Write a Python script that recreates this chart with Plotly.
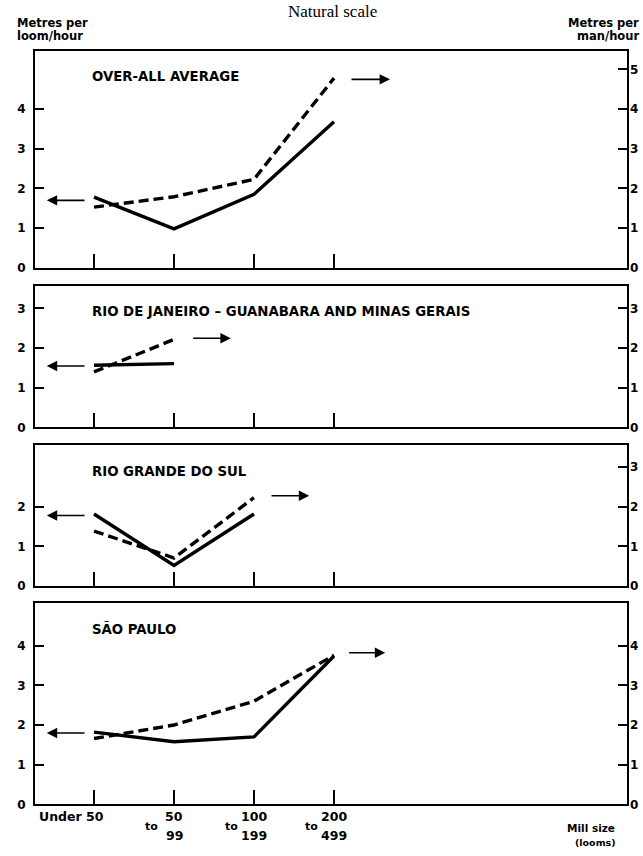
import plotly.graph_objects as go

# ---------------- data ----------------
categories = ["Under 50", "50 to 99", "100 to 199", "200 to 499"]
cat_top = ["50", "100", "200"]
cat_bottom = ["99", "199", "499"]
panel_titles = ["OVER-ALL AVERAGE",
                "RIO DE JANEIRO – GUANABARA AND MINAS GERAIS",
                "RIO GRANDE DO SUL",
                "SÃO PAULO"]
# metres per loom/hour (solid)
loom_overall = [1.78, 0.98, 1.85, 3.68]
loom_rio = [1.57, 1.61]
loom_rgs = [1.82, 0.52, 1.82]
loom_sp = [1.82, 1.58, 1.70, 3.74]
# metres per man/hour (dashed)
man_overall = [1.53, 1.79, 2.23, 4.78]
man_rio = [1.40, 2.22]
man_rgs = [1.39, 0.71, 2.23]
man_sp = [1.66, 2.00, 2.60, 3.76]

left_ticks = [[0, 1, 2, 3, 4], [0, 1, 2, 3], [0, 1, 2], [0, 1, 2, 3, 4]]
right_ticks = [[0, 1, 2, 3, 4, 5], [0, 1, 2, 3], [0, 1, 2, 3], [0, 1, 2, 3, 4]]

loom = [loom_overall, loom_rio, loom_rgs, loom_sp]
man = [man_overall, man_rio, man_rgs, man_sp]

# ---------------- layout geometry ----------------
W, H = 643, 856
panel_px = [(51, 270), (288, 431), (449, 591), (608, 811)]
y_max = [(b - t) / 40.0 for t, b in panel_px]
x_left, x_right = 35, 627
x0_px, dx_px = 94, 80
x_range = [(x_left - x0_px) / dx_px, (x_right - x0_px) / dx_px]

# arrow positions (data units): left arrow y, right arrow (tail x, head x, y)
left_arrow_y = [1.70, 1.55, 1.78, 1.80]
right_arrow = [(3.20, 3.70, 4.75), (1.22, 1.71, 2.25), (2.20, 2.69, 2.28), (3.17, 3.64, 3.82)]

FAM = "DejaVu Sans"
TICKF = dict(family=FAM, size=12, color="black", weight="bold")
LBLF = dict(family=FAM, size=12.5, color="black", weight="bold")

fig = go.Figure()
layout = dict(width=W, height=H, margin=dict(l=0, r=0, t=0, b=0),
              paper_bgcolor="white", plot_bgcolor="white", showlegend=False,
              autosize=False)
annotations = []

for i in range(4):
    n = i + 1
    xa = "x" if n == 1 else f"x{n}"
    yl_n = 2 * i + 1
    yr_n = 2 * i + 2
    yl = "y" if yl_n == 1 else f"y{yl_n}"
    yr = f"y{yr_n}"
    top_px, bot_px = panel_px[i]
    dom = [1 - bot_px / H, 1 - top_px / H]

    layout["xaxis" if n == 1 else f"xaxis{n}"] = dict(
        domain=[x_left / W, x_right / W], range=x_range, anchor=yl,
        showgrid=False, zeroline=False, showline=True, mirror=True,
        linecolor="black", linewidth=2, ticks="inside", ticklen=14,
        tickwidth=1.5, tickcolor="black", tickvals=[0, 1, 2, 3],
        showticklabels=False)
    layout["yaxis" if yl_n == 1 else f"yaxis{yl_n}"] = dict(
        domain=dom, range=[0, y_max[i]], anchor=xa, side="left",
        showgrid=False, zeroline=False, showline=True, mirror=True,
        linecolor="black", linewidth=2, ticks="inside", ticklen=9,
        tickwidth=1.5, tickcolor="black", tickvals=left_ticks[i],
        tickfont=TICKF, ticklabelstandoff=5)
    layout[f"yaxis{yr_n}"] = dict(
        range=[0, y_max[i]], anchor=xa, overlaying=yl, side="right",
        showgrid=False, zeroline=False, showline=False,
        ticks="inside", ticklen=9, tickwidth=1.5, tickcolor="black",
        tickvals=right_ticks[i], tickfont=TICKF, ticklabelstandoff=2)

    fig.add_trace(go.Scatter(x=list(range(len(loom[i]))), y=loom[i],
                             mode="lines", xaxis=xa, yaxis=yl,
                             line=dict(color="black", width=3.4)))
    fig.add_trace(go.Scatter(x=list(range(len(man[i]))), y=man[i],
                             mode="lines", xaxis=xa, yaxis=yr,
                             line=dict(color="black", width=3.4, dash="10px,5px")))

    # panel title
    annotations.append(dict(text=panel_titles[i], xref="paper", yref="paper",
                            x=90 / W, y=1 - (top_px + 26) / H,
                            xanchor="left", yanchor="middle", showarrow=False,
                            font=dict(family=FAM, size=13.3,
                                      color="black", weight="bold")))
    # left arrow (loom scale)
    annotations.append(dict(x=-0.59, y=left_arrow_y[i], ax=-0.10, ay=left_arrow_y[i],
                            xref=xa, yref=yl, axref=xa, ayref=yl,
                            showarrow=True, arrowhead=2, arrowsize=1.3,
                            arrowwidth=1.6, arrowcolor="black", text="",
                            standoff=0, startstandoff=0))
    tx, hx, ay = right_arrow[i]
    annotations.append(dict(x=hx, y=ay, ax=tx, ay=ay,
                            xref=xa, yref=yr, axref=xa, ayref=yr,
                            showarrow=True, arrowhead=2, arrowsize=1.3,
                            arrowwidth=1.6, arrowcolor="black", text="",
                            standoff=0, startstandoff=0))

# x category labels below the last panel
annotations.append(dict(text=categories[0], xref="x4", yref="paper", x=0,
                        y=1 - 823 / H, xanchor="right", yanchor="middle",
                        xshift=12, showarrow=False, font=LBLF))
for k in range(3):
    xc = k + 1
    annotations.append(dict(text=cat_top[k], xref="x4", yref="paper", x=xc,
                            y=1 - 823 / H, xanchor="center", yanchor="middle",
                            showarrow=False, font=LBLF))
    annotations.append(dict(text=cat_bottom[k], xref="x4", yref="paper", x=xc,
                            y=1 - 842 / H, xanchor="center", yanchor="middle",
                            showarrow=False, font=LBLF))
    annotations.append(dict(text="to", xref="x4", yref="paper", x=xc,
                            y=1 - 833 / H, xanchor="right", yanchor="middle",
                            xshift=-14, showarrow=False,
                            font=dict(family=FAM, size=11, color="black",
                                      weight="bold")))

# axis titles (one annotation per line)
hdr = dict(family=FAM, size=11.5, color="black", weight="bold")
for txt, yy in (("Metres per", 23), ("loom/hour", 36)):
    annotations.append(dict(text=txt, xref="paper", yref="paper",
                            x=15 / W, y=1 - yy / H, xanchor="left", yanchor="middle",
                            showarrow=False, font=hdr))
for txt, yy in (("Metres per", 23), ("man/hour", 36)):
    annotations.append(dict(text=txt, xref="paper", yref="paper",
                            x=641 / W, y=1 - yy / H, xanchor="right", yanchor="middle",
                            showarrow=False, font=hdr))
annotations.append(dict(text="Mill size", xref="paper", yref="paper",
                        x=617 / W, y=1 - 835 / H, xanchor="right", yanchor="middle",
                        showarrow=False, font=dict(family=FAM, size=10.5,
                                                   color="black", weight="bold")))
annotations.append(dict(text="(looms)", xref="paper", yref="paper",
                        x=618 / W, y=1 - 849 / H, xanchor="right", yanchor="middle",
                        showarrow=False, font=dict(family=FAM, size=9.5,
                                                   color="black", weight="bold")))
annotations.append(dict(text="Natural scale", xref="paper", yref="paper",
                        x=332 / W, y=1.0, xanchor="center", yanchor="top",
                        showarrow=False,
                        font=dict(family="Liberation Serif", size=17, color="black")))

layout["annotations"] = annotations
fig.update_layout(**layout)
fig.write_html("out.html", config={"displayModeBar": False},
               post_script="document.body.style.margin='0';document.body.style.padding='0';")
